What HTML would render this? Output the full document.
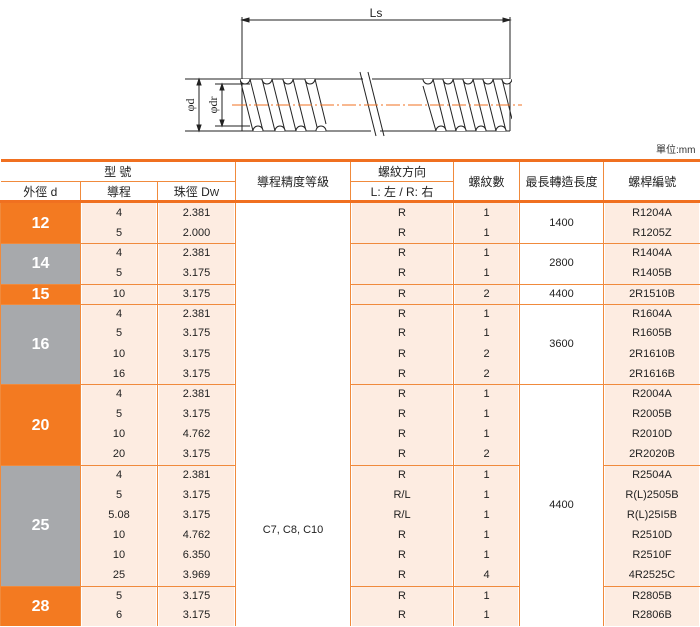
<!DOCTYPE html>
<html><head><meta charset="utf-8">
<style>
body{margin:0;width:700px;height:627px;background:#fff;position:relative;overflow:hidden;font-family:"Liberation Sans","Noto Sans CJK TC",sans-serif;color:#222}
svg.d{position:absolute;left:0;top:0}
.unit{position:absolute;left:656px;top:141px;font-size:10px;color:#333;white-space:nowrap}
table{position:absolute;left:0;top:159px;width:700px;border-collapse:collapse;table-layout:fixed;border-top:3px solid #f07020}
td{padding:0;text-align:center;font-size:11px;border-left:1px solid #f08a3c;border-right:1px solid #f08a3c;white-space:nowrap;overflow:hidden}
tr.h1 td{height:19px;font-size:12px}
tr.h2 td{height:18px;font-size:12px;border-bottom:3px solid #f07020}
tr.h1 td.u{border-bottom:1px solid #f08a3c}
tr.r td{height:20.15px;line-height:19px}
tr.r.s td{height:19.15px}
td.p{background:#fdece1;box-shadow:inset 1px 0 0 #fff,inset -1px 0 0 #fff}
td.o{background:#f37a21;color:#fff;font-weight:bold;font-size:16px}
td.g{background:#a7a9ac;color:#fff;font-weight:bold;font-size:16px}
tr.s td{border-top:1.5px solid #f08a3c}
td.w{background:#fff}
</style></head><body>
<svg class="d" width="700" height="150" viewBox="0 0 700 150">
<defs><clipPath id="c"><rect x="240" y="79" width="272" height="52"/></clipPath></defs>
<g stroke="#222" stroke-width="1" fill="none">
<line x1="242" y1="17" x2="242" y2="131"/><line x1="510" y1="17" x2="510" y2="131"/>
<line x1="242" y1="20" x2="510" y2="20"/>
<path d="M242 20 l7 -2 v4z M510 20 l-7 -2 v4z" fill="#222"/>
<line x1="242" y1="79" x2="363" y2="79"/><line x1="372" y1="79" x2="510" y2="79"/>
<line x1="242" y1="131" x2="371" y2="131"/><line x1="380" y1="131" x2="510" y2="131"/>
<line x1="185" y1="79" x2="242" y2="79"/><line x1="185" y1="131" x2="242" y2="131"/>
<line x1="199" y1="79" x2="199" y2="131"/>
<line x1="215" y1="84" x2="250" y2="84"/><line x1="215" y1="126" x2="250" y2="126"/>
<line x1="222" y1="84" x2="222" y2="126"/>
<path d="M199 79 l-2 6 h4z M199 131 l-2 -6 h4z M222 84 l-2 6 h4z M222 126 l-2 -6 h4z" fill="#222"/>
<g clip-path="url(#c)">
<path d="M240 79L253 131M250 79L263 131M262 79L275 131M272 79L285 131M283 79L296 131M293 79L306 131M305 79L318 131M315 79L326 124M423 86L436 131M433 79L446 131M443 79L456 131M453 79L466 131M463 79L476 131M473 79L486 131M483 79L496 131M493 79L506 131M502 79L512 119"/>
<g fill="#fff">
<circle cx="245" cy="79" r="5"/><circle cx="267" cy="79" r="5"/><circle cx="288" cy="79" r="5"/><circle cx="310" cy="79" r="5"/>
<circle cx="258" cy="131" r="5"/><circle cx="280" cy="131" r="5"/><circle cx="301" cy="131" r="5"/><circle cx="321" cy="131" r="5"/>
<circle cx="428" cy="79" r="5"/><circle cx="448" cy="79" r="5"/><circle cx="468" cy="79" r="5"/><circle cx="488" cy="79" r="5"/><circle cx="507" cy="79" r="5"/>
<circle cx="441" cy="131" r="5"/><circle cx="461" cy="131" r="5"/><circle cx="481" cy="131" r="5"/><circle cx="501" cy="131" r="5"/>
</g></g>
<line x1="360" y1="72" x2="376" y2="136"/><line x1="368" y1="72" x2="384" y2="136"/>
</g>
<line x1="232" y1="105" x2="522" y2="105" stroke="#f07020" stroke-width="1" stroke-dasharray="14 3 2 3"/>
<text x="194" y="105" font-size="12" font-family="Liberation Serif" fill="#222" transform="rotate(-90 194 105)" text-anchor="middle">φd</text>
<text x="217" y="105" font-size="12" font-family="Liberation Serif" fill="#222" transform="rotate(-90 217 105)" text-anchor="middle">φdr</text>
<text x="376" y="17" font-size="12" fill="#222" text-anchor="middle" font-family="Liberation Sans">Ls</text>
</svg>
<div class="unit">單位:mm</div>
<table>
<colgroup><col style="width:80px"><col style="width:77px"><col style="width:78px"><col style="width:115px"><col style="width:103px"><col style="width:66px"><col style="width:84px"><col style="width:97px"></colgroup>
<tr class="h1"><td colspan="3" class="u" style="border-left:none">型 號</td><td rowspan="2" style="border-bottom:3px solid #f07020">導程精度等級</td><td class="u">螺紋方向</td><td rowspan="2" style="border-bottom:3px solid #f07020">螺紋數</td><td rowspan="2" style="border-bottom:3px solid #f07020">最長轉造長度</td><td rowspan="2" style="border-bottom:3px solid #f07020;border-right:none">螺桿編號</td></tr>
<tr class="h2"><td style="border-left:none">外徑 d</td><td>導程</td><td>珠徑 D<span style="font-size:10px">W</span></td><td>L: 左 / R: 右</td></tr>

<tr class="r"><td rowspan="2" class="o">12</td><td class="p">4</td><td class="p">2.381</td><td rowspan="21" class="w" style="vertical-align:top;padding-top:318px">C7, C8, C10</td><td class="p">R</td><td class="p">1</td><td rowspan="2" class="w">1400</td><td class="p">R1204A</td></tr>
<tr class="r"><td class="p">5</td><td class="p">2.000</td><td class="p">R</td><td class="p">1</td><td class="p">R1205Z</td></tr>
<tr class="r s"><td rowspan="2" class="g">14</td><td class="p">4</td><td class="p">2.381</td><td class="p">R</td><td class="p">1</td><td rowspan="2" class="w">2800</td><td class="p">R1404A</td></tr>
<tr class="r"><td class="p">5</td><td class="p">3.175</td><td class="p">R</td><td class="p">1</td><td class="p">R1405B</td></tr>
<tr class="r s"><td class="o">15</td><td class="p">10</td><td class="p">3.175</td><td class="p">R</td><td class="p">2</td><td class="w">4400</td><td class="p">2R1510B</td></tr>
<tr class="r s"><td rowspan="4" class="g">16</td><td class="p">4</td><td class="p">2.381</td><td class="p">R</td><td class="p">1</td><td rowspan="4" class="w">3600</td><td class="p">R1604A</td></tr>
<tr class="r"><td class="p">5</td><td class="p">3.175</td><td class="p">R</td><td class="p">1</td><td class="p">R1605B</td></tr>
<tr class="r"><td class="p">10</td><td class="p">3.175</td><td class="p">R</td><td class="p">2</td><td class="p">2R1610B</td></tr>
<tr class="r"><td class="p">16</td><td class="p">3.175</td><td class="p">R</td><td class="p">2</td><td class="p">2R1616B</td></tr>
<tr class="r s"><td rowspan="4" class="o">20</td><td class="p">4</td><td class="p">2.381</td><td class="p">R</td><td class="p">1</td><td rowspan="12" class="w">4400</td><td class="p">R2004A</td></tr>
<tr class="r"><td class="p">5</td><td class="p">3.175</td><td class="p">R</td><td class="p">1</td><td class="p">R2005B</td></tr>
<tr class="r"><td class="p">10</td><td class="p">4.762</td><td class="p">R</td><td class="p">1</td><td class="p">R2010D</td></tr>
<tr class="r"><td class="p">20</td><td class="p">3.175</td><td class="p">R</td><td class="p">2</td><td class="p">2R2020B</td></tr>
<tr class="r s"><td rowspan="6" class="g">25</td><td class="p">4</td><td class="p">2.381</td><td class="p">R</td><td class="p">1</td><td class="p">R2504A</td></tr>
<tr class="r"><td class="p">5</td><td class="p">3.175</td><td class="p">R/L</td><td class="p">1</td><td class="p">R(L)2505B</td></tr>
<tr class="r"><td class="p">5.08</td><td class="p">3.175</td><td class="p">R/L</td><td class="p">1</td><td class="p">R(L)25I5B</td></tr>
<tr class="r"><td class="p">10</td><td class="p">4.762</td><td class="p">R</td><td class="p">1</td><td class="p">R2510D</td></tr>
<tr class="r"><td class="p">10</td><td class="p">6.350</td><td class="p">R</td><td class="p">1</td><td class="p">R2510F</td></tr>
<tr class="r"><td class="p">25</td><td class="p">3.969</td><td class="p">R</td><td class="p">4</td><td class="p">4R2525C</td></tr>
<tr class="r s"><td rowspan="2" class="o">28</td><td class="p">5</td><td class="p">3.175</td><td class="p">R</td><td class="p">1</td><td class="p">R2805B</td></tr>
<tr class="r"><td class="p">6</td><td class="p">3.175</td><td class="p">R</td><td class="p">1</td><td class="p">R2806B</td></tr>
</table>
</body></html>
